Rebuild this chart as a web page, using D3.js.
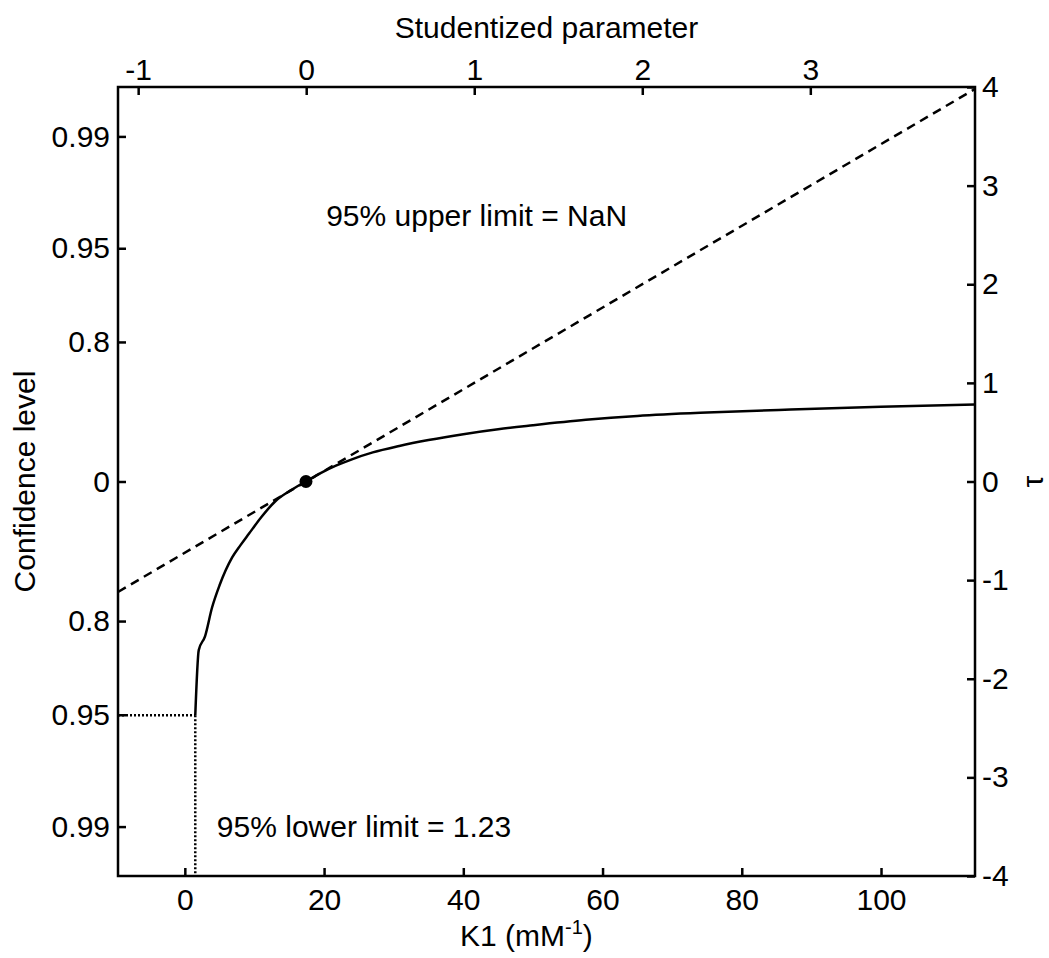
<!DOCTYPE html>
<html>
<head>
<meta charset="utf-8">
<script src="https://cdn.jsdelivr.net/npm/d3@7"></script>
<style>
  body { margin: 0; background: #fff; }
  svg text { font-family: Arial, "Liberation Sans", sans-serif; fill: #000; }
</style>
</head>
<body>
<div id="chart"></div>
<script>
// profile of tau against K1
const kValues   = [1.5, 2.0, 2.9, 3.9, 5.0, 6.8, 8.0, 9.2, 11.0, 13.0, 15.2, 17.4, 19.5, 21.7, 24.0, 27.0, 30.8, 35.0, 40.0, 45.0, 50.0, 57.6, 65.0, 75.0, 87.0, 100.0, 113.5];
const tauValues = [-2.37, -1.71, -1.57, -1.28, -1.05, -0.77, -0.645, -0.53, -0.36, -0.20, -0.09, 0.0, 0.085, 0.16, 0.225, 0.295, 0.36, 0.42, 0.48, 0.53, 0.57, 0.625, 0.665, 0.70, 0.73, 0.758, 0.78];

// estimate (dot) and studentized line
const estimateK = 17.4;
const studRange = [-1.12, 3.98];

// tick values / labels
const kTicks = [0, 20, 40, 60, 80, 100];
const studTicks = [-1, 0, 1, 2, 3];
const tauTicks = [-4, -3, -2, -1, 0, 1, 2, 3, 4];
const confTickTau = [3.499, 2.365, 1.415, 0, -1.415, -2.365, -3.499];
const confTickLabels = ["0.99", "0.95", "0.8", "0", "0.8", "0.95", "0.99"];

const upperText = "95% upper limit = NaN";
const lowerText = "95% lower limit = 1.23";

(function () {
    const W = 1049, H = 958;
    const left = 118, right = 975, top = 87, bottom = 876;

    const svg = d3.select("#chart").append("svg")
        .attr("width", W).attr("height", H);

    const x = d3.scaleLinear().domain([-9.6, 113.5]).range([left, right]);
    const xTop = d3.scaleLinear().domain(studRange).range([left, right]);
    const y = d3.scaleLinear().domain([-4, 4]).range([bottom, top]);

    const fs = 30;
    const lw = 2.5;

    function styleAxis(g) {
        g.select(".domain").remove();
        g.selectAll(".tick line").attr("stroke", "#000").attr("stroke-width", lw);
        g.selectAll(".tick text").attr("font-size", fs).attr("font-family", "Arial, 'Liberation Sans', sans-serif").attr("fill", "#000");
    }

    // bottom axis
    svg.append("g").attr("transform", `translate(0,${bottom})`)
        .call(d3.axisBottom(x).tickValues(kTicks).tickFormat(d => String(d))
            .tickSizeInner(-8).tickSizeOuter(0).tickPadding(13))
        .call(styleAxis);

    // top axis
    svg.append("g").attr("transform", `translate(0,${top})`)
        .call(d3.axisTop(xTop).tickValues(studTicks).tickFormat(d => String(d))
            .tickSizeInner(-8).tickSizeOuter(0).tickPadding(7))
        .call(styleAxis);

    // left axis (confidence level)
    svg.append("g").attr("transform", `translate(${left},0)`)
        .call(d3.axisLeft(y).tickValues(confTickTau).tickFormat((d, i) => confTickLabels[i])
            .tickSizeInner(-8).tickSizeOuter(0).tickPadding(8))
        .call(styleAxis);

    // right axis (tau)
    svg.append("g").attr("transform", `translate(${right},0)`)
        .call(d3.axisRight(y).tickValues(tauTicks).tickFormat(d => String(d))
            .tickSizeInner(-8).tickSizeOuter(0).tickPadding(7))
        .call(styleAxis);

    // frame
    svg.append("rect")
        .attr("x", left).attr("y", top)
        .attr("width", right - left).attr("height", bottom - top)
        .attr("fill", "none").attr("stroke", "#000").attr("stroke-width", lw);

    // dashed studentized line (tau = studentized parameter)
    svg.append("path")
        .datum(studRange)
        .attr("d", d3.line().x(d => xTop(d)).y(d => y(d)))
        .attr("fill", "none").attr("stroke", "#000")
        .attr("stroke-width", lw).attr("stroke-dasharray", "9,6");

    // profile curve
    const pts = kValues.map((k, i) => [k, tauValues[i]]);
    svg.append("path")
        .datum(pts)
        .attr("d", d3.line().x(d => x(d[0])).y(d => y(d[1])).curve(d3.curveMonotoneX))
        .attr("fill", "none").attr("stroke", "#000").attr("stroke-width", lw);

    // dotted lines at lower limit
    const k0 = kValues[0], t0 = tauValues[0];
    svg.append("line")
        .attr("x1", left).attr("x2", x(k0))
        .attr("y1", y(t0)).attr("y2", y(t0))
        .attr("stroke", "#000").attr("stroke-width", 2.5).attr("stroke-dasharray", "2,2");
    svg.append("line")
        .attr("x1", x(k0)).attr("x2", x(k0))
        .attr("y1", y(t0)).attr("y2", bottom)
        .attr("stroke", "#000").attr("stroke-width", 2.5).attr("stroke-dasharray", "2,2");

    // estimate
    svg.append("circle")
        .attr("cx", x(estimateK)).attr("cy", y(0)).attr("r", 6.5)
        .attr("fill", "#000");

    // annotations
    svg.append("text")
        .attr("x", x(20.3)).attr("y", y(2.59))
        .attr("font-size", fs).text(upperText);
    svg.append("text")
        .attr("x", x(4.6)).attr("y", y(-3.6))
        .attr("font-size", fs).text(lowerText);

    // axis titles
    svg.append("text")
        .attr("x", (left + right) / 2).attr("y", 38)
        .attr("text-anchor", "middle").attr("font-size", fs)
        .text("Studentized parameter");

    const xl = svg.append("text")
        .attr("x", 460).attr("y", 946)
        .attr("font-size", fs);
    xl.append("tspan").text("K1 (mM");
    xl.append("tspan").attr("dy", -12).attr("font-size", 20).text("-1");
    xl.append("tspan").attr("dy", 12).text(")");

    svg.append("text")
        .attr("transform", `translate(35,${(top + bottom) / 2}) rotate(-90)`)
        .attr("text-anchor", "middle").attr("font-size", fs)
        .text("Confidence level");

    svg.append("text")
        .attr("transform", `translate(1043,${(top + bottom) / 2}) rotate(-90)`)
        .attr("text-anchor", "middle").attr("font-size", fs)
        .text("τ");
})();
</script>
</body>
</html>
